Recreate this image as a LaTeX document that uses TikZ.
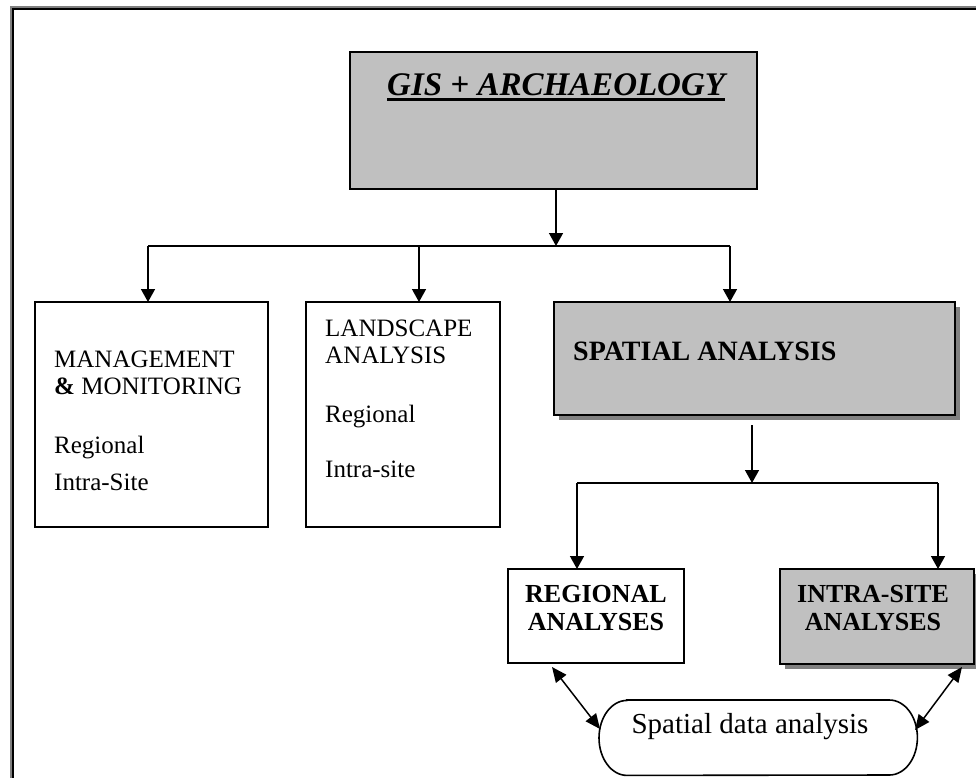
\documentclass[tikz,border=0pt]{standalone}
\usepackage{fontspec}
\setmainfont{Liberation Serif}
\usetikzlibrary{arrows.meta,calc,shadows}
\definecolor{boxgray}{HTML}{C0C0C0}
\definecolor{shadowgray}{HTML}{808080}
\begin{document}
\begin{tikzpicture}[x=1pt,y=-1pt,
  box/.style={draw=black,line width=1.6pt,anchor=north west,inner sep=0pt,outer sep=0pt},
  grayshadow/.style={drop shadow={shadow xshift=5pt,shadow yshift=-5pt,fill=shadowgray,opacity=1}},
  txt/.style={anchor=base west,inner sep=0pt},
  ctxt/.style={anchor=base,inner sep=0pt},
  conn/.style={line width=1.5pt,-{Triangle[width=14pt,length=13pt]}},
  plainconn/.style={line width=1.5pt},
  dbl/.style={line width=1.5pt,{Triangle[width=13pt,length=15pt]}-{Triangle[width=13pt,length=15pt]}},
  reg/.style={font=\fontsize{25}{27}\selectfont},
  bld/.style={font=\fontsize{26}{28}\selectfont\bfseries}
]
\useasboundingbox (0,0) rectangle (976,777);
\clip (0,0) rectangle (976,777);
% outer frame
\draw[shadowgray,line width=3.5pt] (12,800) -- (12,8) -- (1000,8);
\draw[black,line width=2pt] (13,800) -- (13,9) -- (1000,9);

% boxes
\node[box,fill=boxgray,minimum width=407pt,minimum height=137pt] (gis) at (350,52) {};
\node[box,minimum width=233pt,minimum height=225pt] (mgmt) at (35,302) {};
\node[box,minimum width=194pt,minimum height=225pt] (land) at (306,302) {};
\node[box,fill=boxgray,grayshadow,minimum width=401pt,minimum height=113pt] (spat) at (554,302) {};
\node[box,minimum width=176pt,minimum height=94pt] (regb) at (508,569) {};
\node[box,fill=boxgray,grayshadow,minimum width=194pt,minimum height=95pt] (intra) at (780,569) {};
\node[anchor=north west,inner sep=0pt,minimum width=318pt,minimum height=75pt] (sda) at (599,700) {};
\draw[line width=1.6pt] ($(sda.north west)+(28,0)$) -- ($(sda.north east)+(-28,0)$)
  arc[start angle=90,end angle=-90,x radius=28pt,y radius=37.5pt]
  -- ($(sda.south west)+(28,0)$)
  arc[start angle=270,end angle=90,x radius=28pt,y radius=37.5pt] -- cycle;

% texts
\node[txt,font=\fontsize{33}{36}\selectfont\bfseries\itshape] (gist) at (387,95) {GIS + ARCHAEOLOGY};
\draw[line width=2.5pt] ($(gist.base west)+(0,4.5)$) -- ($(gist.base east)+(0,4.5)$);

\node[txt,reg] (m1) at (54,367) {MANAGEMENT};
\node[txt,reg] (m2) at (54,394) {\textbf{\&} MONITORING};
\node[txt,reg] (m3) at (54,453) {Regional};
\node[txt,reg] (m4) at (54,490) {Intra-Site};

\node[txt,reg] (l1) at (325,336) {LANDSCAPE};
\node[txt,reg] (l2) at (325,363) {ANALYSIS};
\node[txt,reg] (l3) at (325,422) {Regional};
\node[txt,reg] (l4) at (325,477) {Intra-site};

\node[txt,font=\fontsize{28}{30}\selectfont\bfseries] (spatt) at (573,360) {SPATIAL ANALYSIS};

\node[ctxt,bld] (rt1) at (596,602) {REGIONAL};
\node[ctxt,bld] (rt2) at (596,630) {ANALYSES};
\node[ctxt,bld] (it1) at (873,602) {INTRA-SITE};
\node[ctxt,bld] (it2) at (873,630) {ANALYSES};
\node[ctxt,font=\fontsize{29}{31}\selectfont] (sdat) at (750,733) {Spatial data analysis};

% connectors: top level
\coordinate (j1) at (556,246);
\coordinate (a1) at (148,246);
\coordinate (a2) at (419,246);
\coordinate (a3) at (730,246);
\draw[conn] (gis.south -| j1) -- (j1);
\draw[plainconn] (a1) -- (a3);
\draw[conn] (a1) -- (a1 |- mgmt.north);
\draw[conn] (a2) -- (a2 |- land.north);
\draw[conn] (a3) -- (a3 |- spat.north);

% connectors: spatial split
\coordinate (j2) at (752,483);
\coordinate (b1) at (577,483);
\coordinate (b2) at (938,483);
\draw[conn] ($(spat.south -| j2)+(0,10)$) -- (j2);
\draw[plainconn] (b1) -- (b2);
\draw[conn] (b1) -- (b1 |- regb.north);
\draw[conn] (b2) -- (b2 |- intra.north);

% double arrows
\coordinate (d1a) at (552,667);
\coordinate (d1b) at (600,729);
\coordinate (d2a) at (962,667);
\coordinate (d2b) at (915,730);
\draw[dbl] (d1a) -- (d1b);
\draw[dbl] (d2a) -- (d2b);
\end{tikzpicture}
\end{document}
